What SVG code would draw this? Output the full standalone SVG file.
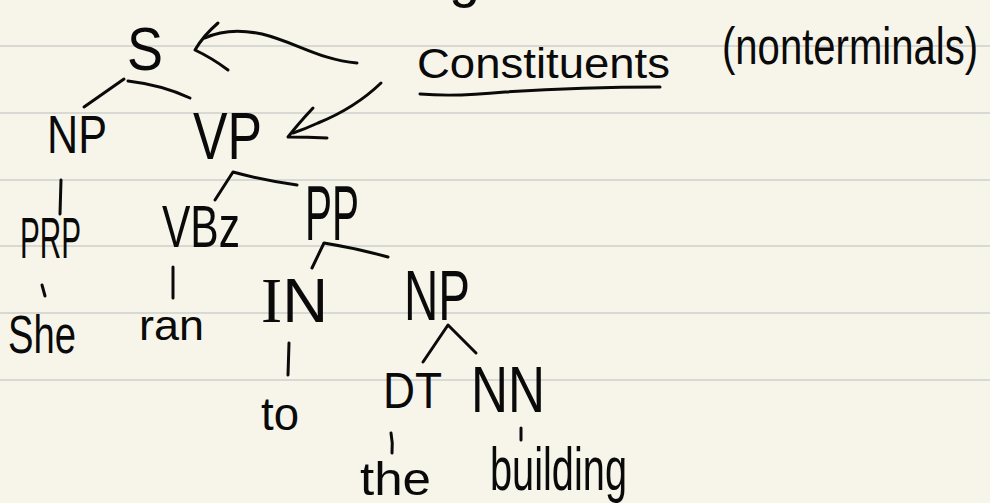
<svg xmlns="http://www.w3.org/2000/svg" width="990" height="503" viewBox="0 0 990 503">
  <style>
    .rule { stroke: #d8d8d5; stroke-width: 2; }
    .ink { fill: none; stroke: #0a0a0a; stroke-width: 3; stroke-linecap: round; stroke-linejoin: round; }
    .lbl { font-family: "Liberation Sans", "DejaVu Sans", sans-serif; fill: #0a0a0a; text-anchor: start; }
  </style>

  <!-- notebook paper -->
  <rect width="990" height="503" fill="#f7f5e9"/>
  <g id="paper-lines">
    <line class="rule" x1="0" y1="46" x2="990" y2="46"/>
    <line class="rule" x1="0" y1="113" x2="990" y2="113"/>
    <line class="rule" x1="0" y1="180" x2="990" y2="180"/>
    <line class="rule" x1="0" y1="246" x2="990" y2="246"/>
    <line class="rule" x1="0" y1="313" x2="990" y2="313"/>
    <line class="rule" x1="0" y1="380" x2="990" y2="380"/>
  </g>

  <!-- tail of a letter from the line above -->
  <text class="lbl" x="449" y="-4" font-size="56">g</text>

  <!-- tree nodes -->
  <g id="node-S"><text class="lbl" x="127" y="70" font-size="62" textLength="36" lengthAdjust="spacingAndGlyphs">S</text></g>
  <g id="node-NP"><text class="lbl" x="47" y="153" font-size="53" textLength="60" lengthAdjust="spacingAndGlyphs">NP</text></g>
  <g id="node-VP"><text class="lbl" x="193" y="159" font-size="66" textLength="69" lengthAdjust="spacingAndGlyphs">VP</text></g>
  <g id="node-PRP"><text class="lbl" x="20" y="258" font-size="58" textLength="61" lengthAdjust="spacingAndGlyphs">PRP</text></g>
  <g id="node-VBz"><text class="lbl" x="162" y="247" font-size="60" textLength="78" lengthAdjust="spacingAndGlyphs">VBz</text></g>
  <g id="node-PP"><text class="lbl" x="305" y="240" font-size="78" textLength="54" lengthAdjust="spacingAndGlyphs">PP</text></g>
  <g id="node-IN"><text class="lbl" x="261" y="322" font-size="63" textLength="67" lengthAdjust="spacingAndGlyphs"><tspan font-family="Liberation Serif, serif">I</tspan>N</text></g>
  <g id="node-NP2"><text class="lbl" x="404" y="320" font-size="70" textLength="66" lengthAdjust="spacingAndGlyphs">NP</text></g>
  <g id="node-DT"><text class="lbl" x="383" y="408" font-size="50" textLength="59" lengthAdjust="spacingAndGlyphs">DT</text></g>
  <g id="node-NN"><text class="lbl" x="471" y="412" font-size="64" textLength="74" lengthAdjust="spacingAndGlyphs">NN</text></g>

  <!-- leaf words -->
  <g id="word-she"><text class="lbl" x="8" y="353" font-size="53" textLength="68" lengthAdjust="spacingAndGlyphs">She</text></g>
  <g id="word-ran"><text class="lbl" x="139" y="340" font-size="42" textLength="65" lengthAdjust="spacingAndGlyphs">ran</text></g>
  <g id="word-to"><text class="lbl" x="261" y="430" font-size="46" textLength="38" lengthAdjust="spacingAndGlyphs">to</text></g>
  <g id="word-the"><text class="lbl" x="360" y="495" font-size="47" textLength="71" lengthAdjust="spacingAndGlyphs">the</text></g>
  <g id="word-building"><text class="lbl" x="490" y="490" font-size="62" textLength="137" lengthAdjust="spacingAndGlyphs">building</text></g>

  <!-- annotation -->
  <g id="note-constituents">
    <text class="lbl" x="417" y="78" font-size="42" textLength="253" lengthAdjust="spacingAndGlyphs">Constituents</text>
    <path class="ink" d="M420,94 Q455,97 505,92 Q580,87 660,87"/>
  </g>
  <g id="note-nonterminals">
    <text class="lbl" x="722" y="64" font-size="52" textLength="256" lengthAdjust="spacingAndGlyphs">(nonterminals)</text>
  </g>

  <!-- connectors -->
  <g id="connectors">
    <path class="ink" d="M124,79 L84,107"/>
    <path class="ink" d="M128,81 Q162,85 190,98"/>
    <path class="ink" d="M61,180 L60,214"/>
    <path class="ink" d="M215,200 L233,172 Q262,180 297,185"/>
    <path class="ink" d="M42,285 L45,296"/>
    <path class="ink" d="M173,267 L173,298"/>
    <path class="ink" d="M312,268 L324,243 Q355,248 388,257"/>
    <path class="ink" d="M289,343 L288,375"/>
    <path class="ink" d="M423,362 L448,325 L476,353"/>
    <path class="ink" d="M391,433 Q393,443 392,453"/>
    <path class="ink" d="M521,428 L521,440"/>
    <!-- arrow to S -->
    <path class="ink" d="M357,63 C320,60 295,42 262,34 C238,29 220,31 205,38"/>
    <path class="ink" d="M218,23 Q203,36 195,50 Q212,58 228,70"/>
    <!-- arrow to VP -->
    <path class="ink" d="M381,83 Q355,108 318,123 Q305,129 293,133"/>
    <path class="ink" d="M313,108 Q298,124 288,137 Q308,137 327,138"/>
  </g>
</svg>
